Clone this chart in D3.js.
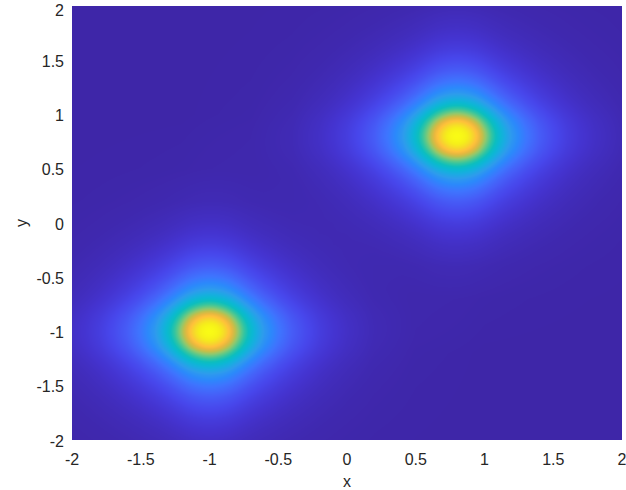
<!DOCTYPE html>
<html>
<head>
<meta charset="utf-8">
<script src="https://cdn.jsdelivr.net/npm/d3@7"></script>
<style>
  body { margin: 0; background: #fff; }
  svg { display: block; }
</style>
</head>
<body>
<div id="chart"></div>
<script>
// two peaks of the surface
var peakX = [0.8, -1];
var peakY = [0.8, -1];
var peakHeight = [1, 1];

// profile of one peak along an axis (distance from centre -> value)
var profileOffset = [0, 0.025, 0.05, 0.075, 0.1, 0.125, 0.15, 0.2, 0.25, 0.3, 0.35, 0.4, 0.5, 0.6, 0.7, 0.8, 0.9, 1.0, 1.2, 1.5, 2.0];
var profileValue = [1, 0.993, 0.975, 0.945, 0.91, 0.865, 0.815, 0.69, 0.57, 0.465, 0.385, 0.32, 0.23, 0.165, 0.12, 0.085, 0.06, 0.042, 0.018, 0.005, 0];

var xTicks = [-2, -1.5, -1, -0.5, 0, 0.5, 1, 1.5, 2];
var yTicks = [-2, -1.5, -1, -0.5, 0, 0.5, 1, 1.5, 2];

// parula colour stops
var parula = ["#3e26a8", "#4433cf", "#4746eb", "#465df7", "#3e74fe", "#2b89fb", "#2d9cec",
  "#19ace1", "#0bb8d2", "#0cbebe", "#2ec4a4", "#5bc88a", "#8fc86e", "#c1bf4b", "#e7b83f",
  "#fec13a", "#f6d82b", "#f5ee1a", "#f9fb15"];

var width = 626,
    height = 490,
    margin = {left: 72, right: 4, top: 6, bottom: 50};
var plotW = width - margin.left - margin.right,
    plotH = height - margin.top - margin.bottom;

var x = d3.scaleLinear().domain([-2, 2]).range([margin.left, margin.left + plotW]);
var y = d3.scaleLinear().domain([-2, 2]).range([margin.top + plotH, margin.top]);
var profile = d3.scaleLinear().domain(profileOffset).range(profileValue).clamp(true);

// how square (diamond-like) the tails are: 0 = round, 1 = separable
var squareness = 0.5;

function surface(px, py) {
    var z = 0;
    for (var k = 0; k < peakX.length; k++) {
        var dx = Math.abs(px - peakX[k]), dy = Math.abs(py - peakY[k]);
        var round = profile(Math.sqrt(dx * dx + dy * dy));
        var sep = profile(dx) * profile(dy);
        z += peakHeight[k] * Math.pow(round, 1 - squareness) * Math.pow(sep, squareness);
    }
    return z;
}

var zMax = d3.max(peakHeight);
var color = d3.scaleLinear()
    .domain(parula.map(function(d, i) { return zMax * i / (parula.length - 1); }))
    .range(parula)
    .clamp(true);

// raster of the surface, one canvas pixel per screen pixel
var canvas = document.createElement("canvas");
canvas.width = plotW;
canvas.height = plotH;
var ctx = canvas.getContext("2d");
var img = ctx.createImageData(plotW, plotH);
for (var j = 0; j < plotH; j++) {
    var vy = y.invert(margin.top + j + 0.5);
    for (var i = 0; i < plotW; i++) {
        var vx = x.invert(margin.left + i + 0.5);
        var c = d3.rgb(color(surface(vx, vy)));
        var o = (j * plotW + i) * 4;
        img.data[o] = c.r;
        img.data[o + 1] = c.g;
        img.data[o + 2] = c.b;
        img.data[o + 3] = 255;
    }
}
ctx.putImageData(img, 0, 0);

var svg = d3.select("#chart").append("svg")
    .attr("width", width)
    .attr("height", height)
    .style("font-family", "'Liberation Sans', Arial, sans-serif")
    .style("font-size", "16px");

svg.append("image")
    .attr("x", margin.left)
    .attr("y", margin.top)
    .attr("width", plotW)
    .attr("height", plotH)
    .attr("preserveAspectRatio", "none")
    .attr("href", canvas.toDataURL());

svg.selectAll(".xtick")
    .data(xTicks)
    .enter().append("text")
    .attr("class", "xtick")
    .attr("x", function(d) { return x(d); })
    .attr("y", margin.top + plotH + 25)
    .attr("text-anchor", "middle")
    .attr("fill", "#262626")
    .text(function(d) { return d; });

svg.selectAll(".ytick")
    .data(yTicks)
    .enter().append("text")
    .attr("class", "ytick")
    .attr("x", margin.left - 8)
    .attr("y", function(d) { return Math.max(y(d), 9) + 1; })
    .attr("dy", "0.35em")
    .attr("text-anchor", "end")
    .attr("fill", "#262626")
    .text(function(d) { return d; });

svg.append("text")
    .attr("x", margin.left + plotW / 2)
    .attr("y", 487)
    .attr("text-anchor", "middle")
    .attr("fill", "#262626")
    .text("x");

svg.append("text")
    .attr("transform", "translate(27," + (margin.top + plotH / 2) + ") rotate(-90)")
    .attr("text-anchor", "middle")
    .attr("fill", "#262626")
    .text("y");
</script>
</body>
</html>
